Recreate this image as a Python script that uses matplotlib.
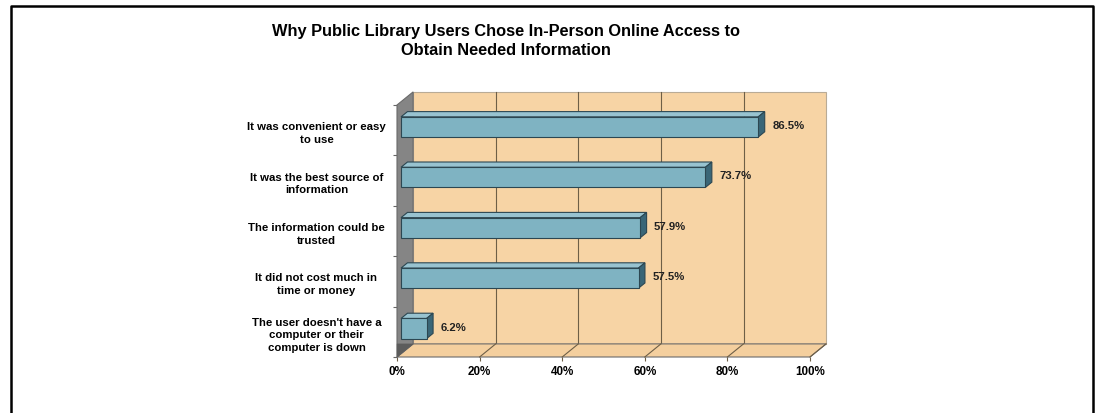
import matplotlib
matplotlib.use("Agg")
import matplotlib.pyplot as plt
from matplotlib.patches import Polygon
from matplotlib.lines import Line2D
from matplotlib.ticker import FixedLocator

# ---- data -------------------------------------------------------------
categories = [
    "It was convenient or easy\nto use",
    "It was the best source of\ninformation",
    "The information could be\ntrusted",
    "It did not cost much in\ntime or money",
    "The user doesn't have a\ncomputer or their\ncomputer is down",
]
values = [86.5, 73.7, 57.9, 57.5, 6.2]
x_ticks = [0, 20, 40, 60, 80, 100]
x_tick_labels = ["0%", "20%", "40%", "60%", "80%", "100%"]
title = ("Why Public Library Users Chose In-Person Online Access to\n"
         "Obtain Needed Information")

# ---- styling ------------------------------------------------------------
W, H = 1098, 414
plt.rcParams['font.family'] = ['Liberation Sans', 'DejaVu Sans']

WALL = '#F7D4A5'
FLOOR = '#F4CF9E'
SIDE = '#858585'
GRID = '#6e5f47'
BAR_FRONT = '#7FB3C2'
BAR_TOP = '#98C3D0'
BAR_SIDE = '#3A6677'
BAR_EDGE = '#2C4752'

DX, DY = 3.9, 0.26        # depth of the 3-D box in data units
F0, F1 = 0.25, 0.65       # bars occupy this slice of the depth
BAR_H = 0.40

fig = plt.figure(figsize=(W / 100, H / 100), dpi=100)
ax = fig.add_axes([397 / W, 56 / H, 413 / W, 252 / H])
n = len(categories)
xmax = x_ticks[-1]
ax.set_xlim(0, xmax)
ax.set_ylim(0, n)
for s in ax.spines.values():
    s.set_visible(False)


def poly(pts, fc, ec, lw=0.8, z=1):
    ax.add_patch(Polygon(pts, closed=True, facecolor=fc, edgecolor=ec,
                         linewidth=lw, clip_on=False, zorder=z))


# back wall, floor and left side wall
poly([(DX, DY), (xmax + DX, DY), (xmax + DX, n + DY), (DX, n + DY)],
     WALL, '#b9ab96', z=1)
poly([(0, 0), (xmax, 0), (xmax + DX, DY), (DX, DY)], FLOOR, '#6a6a6a', z=2)
poly([(0, 0), (DX, DY), (DX, n + DY), (0, n)], SIDE, '#6a6a6a', z=3)
poly([(0, 0), (DX, DY), (0, DY)], '#5c5c5c', '#5c5c5c', lw=0.3, z=3)

# gridlines on the back wall and across the floor
for t in x_ticks:
    if 0 < t < xmax:
        ax.plot([t + DX, t + DX], [DY, n + DY], color=GRID, lw=0.8,
                zorder=1.5, clip_on=False)
    if t > 0:
        ax.plot([t, t + DX], [0, DY], color=GRID, lw=0.8, zorder=2.5,
                clip_on=False)

# 3-D bars
for i, v in enumerate(values):
    yc = n - i - 0.5
    bot, top = yc - BAR_H / 2, yc + BAR_H / 2
    x0f, y0f = F0 * DX, F0 * DY
    x0b, y0b = F1 * DX, F1 * DY
    poly([(x0f, top + y0f), (v + x0f, top + y0f),
          (v + x0b, top + y0b), (x0b, top + y0b)], BAR_TOP, BAR_EDGE, z=5)
    poly([(v + x0f, bot + y0f), (v + x0b, bot + y0b),
          (v + x0b, top + y0b), (v + x0f, top + y0f)], BAR_SIDE, BAR_EDGE, z=5)
    poly([(x0f, bot + y0f), (v + x0f, bot + y0f),
          (v + x0f, top + y0f), (x0f, top + y0f)], BAR_FRONT, BAR_EDGE, z=6)
    ax.text(v + x0b + 1.8, yc + y0f + 0.04, f"{v}%", ha='left', va='center',
            fontsize=8.2, fontweight='bold', color='#222222', zorder=7)

# axes ticks and labels
ax.set_xticks(x_ticks)
ax.set_xticklabels(x_tick_labels)
ax.tick_params(axis='x', length=3, width=0.8, color=GRID, pad=3,
               labelsize=8.4, direction='out')
for lab in ax.get_xticklabels():
    lab.set_fontweight('bold')

ax.set_yticks([n - i - 0.5 for i in range(n)])
ax.set_yticklabels(categories, ha='center', multialignment='center',
                   fontsize=8.2, fontweight='bold', linespacing=1.32)
ax.yaxis.set_minor_locator(FixedLocator(range(n + 1)))
ax.tick_params(axis='y', which='major', length=0, pad=58)
ax.tick_params(axis='y', which='minor', length=3, width=0.8,
               color='#666666', direction='out')

# title
fig.text(506 / W, 1 - 41 / H, title, ha='center', va='center',
         fontsize=11.8, fontweight='bold', linespacing=1.3)

# frame around the figure (open at the bottom)
fig.add_artist(Line2D([11 / W, 11 / W, 1093 / W, 1093 / W],
                      [0, 1 - 7 / H, 1 - 7 / H, 0],
                      transform=fig.transFigure, color='black', lw=1.8))

fig.savefig("out.png", dpi=100)
